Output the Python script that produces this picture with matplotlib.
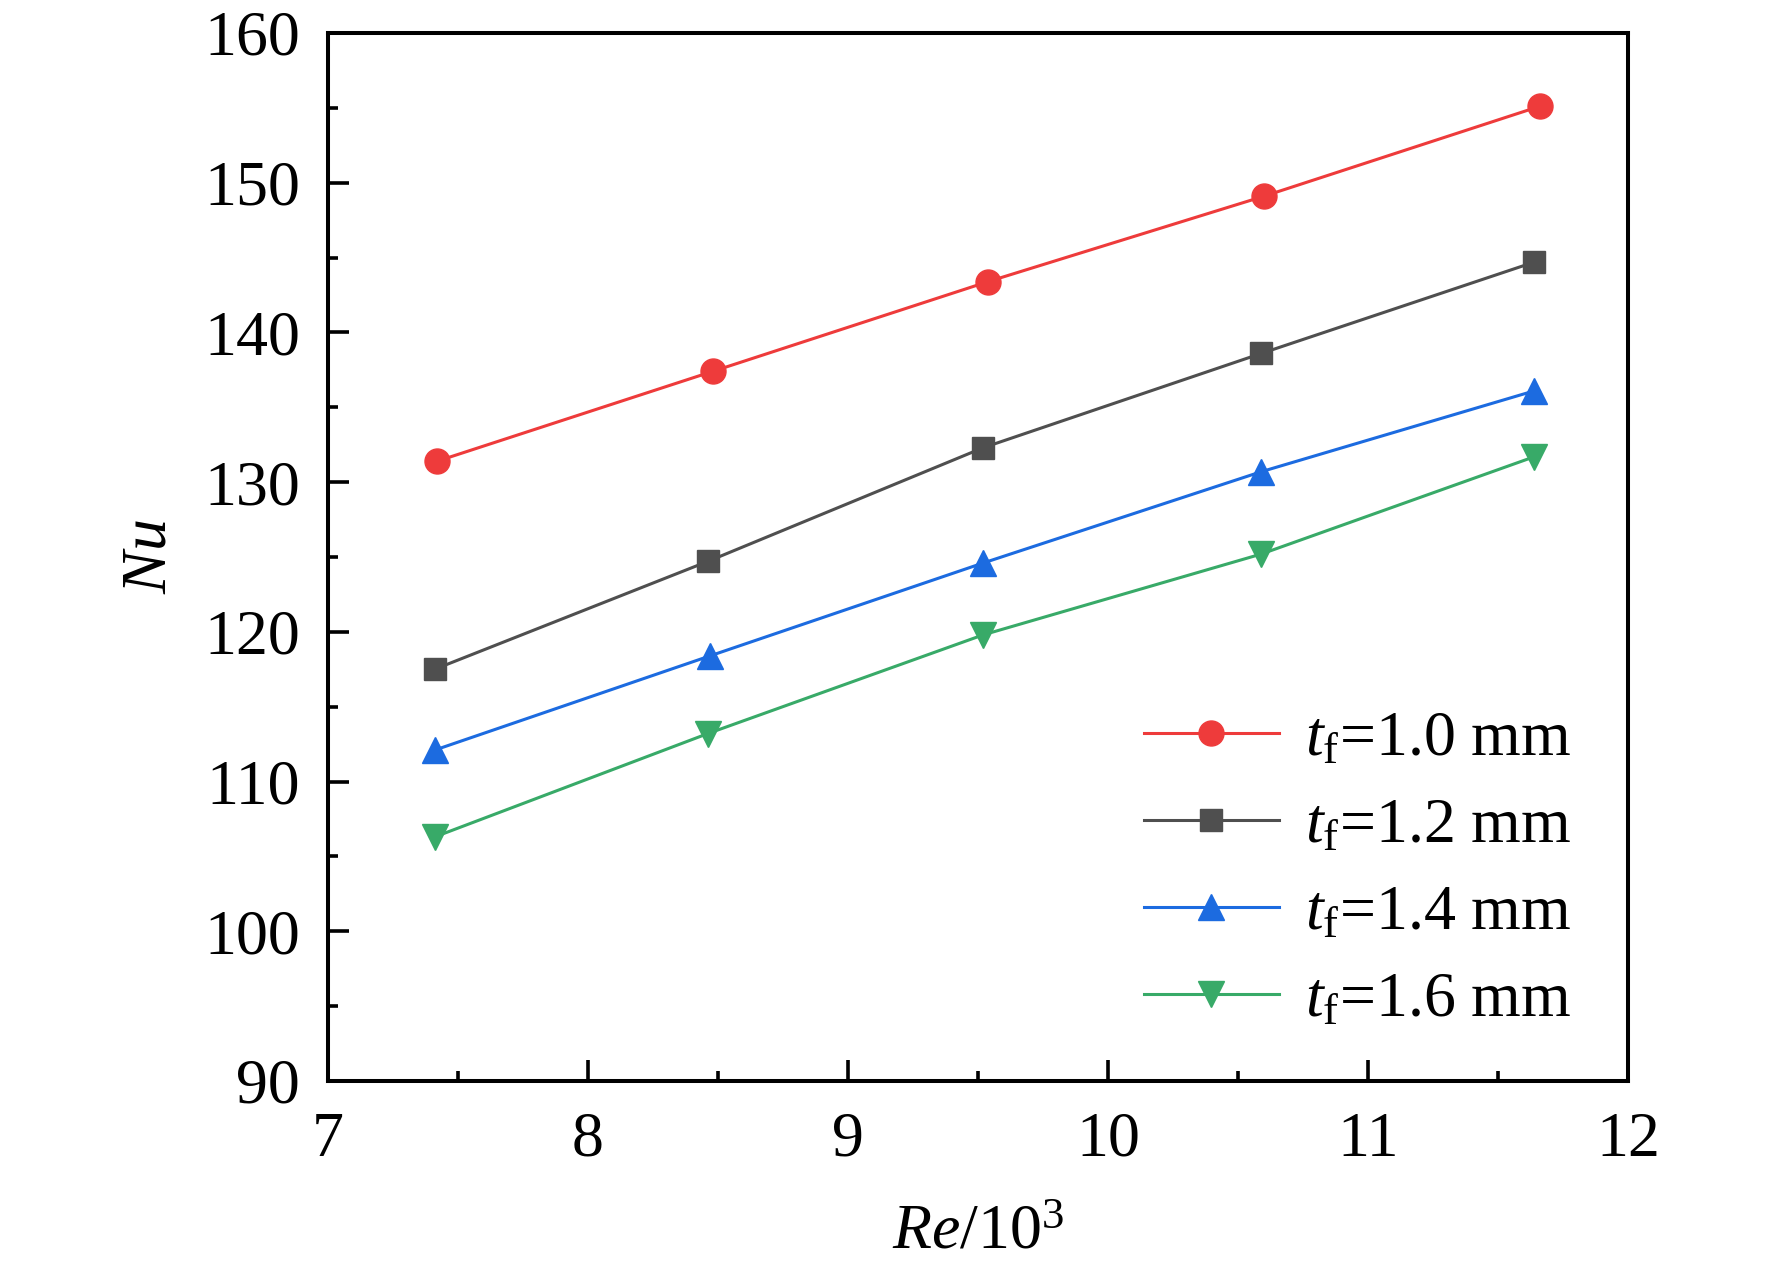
import matplotlib
matplotlib.use("Agg")
import matplotlib.pyplot as plt
from matplotlib.ticker import MultipleLocator

# Data
x_10 = [7.42, 8.48, 9.54, 10.60, 11.66]
nu_10 = [131.4, 137.4, 143.4, 149.1, 155.1]
x_12 = [7.41, 8.46, 9.52, 10.59, 11.64]
nu_12 = [117.5, 124.7, 132.3, 138.6, 144.7]
x_14 = [7.41, 8.47, 9.52, 10.59, 11.64]
nu_14 = [112.1, 118.4, 124.6, 130.7, 136.1]
x_16 = [7.41, 8.46, 9.52, 10.59, 11.64]
nu_16 = [106.3, 113.2, 119.8, 125.2, 131.7]
labels = [r"$\mathit{t}_{\mathrm{f}}$=1.0 mm", r"$\mathit{t}_{\mathrm{f}}$=1.2 mm",
          r"$\mathit{t}_{\mathrm{f}}$=1.4 mm", r"$\mathit{t}_{\mathrm{f}}$=1.6 mm"]

plt.rcParams['font.family'] = ['Liberation Serif', 'DejaVu Serif']
plt.rcParams['mathtext.fontset'] = 'custom'
plt.rcParams['mathtext.rm'] = 'Liberation Serif'
plt.rcParams['mathtext.it'] = 'Liberation Serif:italic'
plt.rcParams['mathtext.bf'] = 'Liberation Serif:bold'

fig = plt.figure(figsize=(17.72, 12.70), dpi=100)
ax = fig.add_axes([328/1772, 1 - 1081/1270, 1300/1772, 1048/1270])

lw = 2.2
ax.plot(x_10, nu_10, '-o', color='#EE3B3B', lw=lw, ms=18, label=labels[0])
ax.plot(x_12, nu_12, '-s', color='#4F4F4F', lw=lw, ms=15.5, label=labels[1])
ax.plot(x_14, nu_14, '-^', color='#1C6BE0', lw=lw, ms=19, label=labels[2])
ax.plot(x_16, nu_16, '-v', color='#38AA68', lw=lw, ms=19, label=labels[3])

ax.set_xlim(7, 12)
ax.set_ylim(90, 160)
ax.xaxis.set_major_locator(MultipleLocator(1))
ax.xaxis.set_minor_locator(MultipleLocator(0.5))
ax.yaxis.set_major_locator(MultipleLocator(10))
ax.yaxis.set_minor_locator(MultipleLocator(5))

for s in ax.spines.values():
    s.set_linewidth(2.9)
ax.tick_params(which='both', direction='in', top=False, right=False, width=2.6)
ax.tick_params(which='major', length=15, labelsize=46)
ax.tick_params(which='minor', length=7.5)
ax.tick_params(axis='x', which='major', pad=22)
ax.tick_params(axis='y', which='major', pad=20)

ax.set_xlabel(r"$\mathit{Re}$/10$^{3}$", fontsize=46)
ax.set_ylabel(r"$\mathit{Nu}$", fontsize=46)
ax.xaxis.set_label_coords(0.5, -0.118)
ax.yaxis.set_label_coords(-0.114, 0.5)

leg = ax.legend(loc='upper left', bbox_to_anchor=(0.628, 0.353), frameon=False,
                fontsize=46, handlelength=2.1, handletextpad=0.42,
                labelspacing=0.44, borderpad=0, borderaxespad=0)

fig.savefig('out.png', dpi=100)
